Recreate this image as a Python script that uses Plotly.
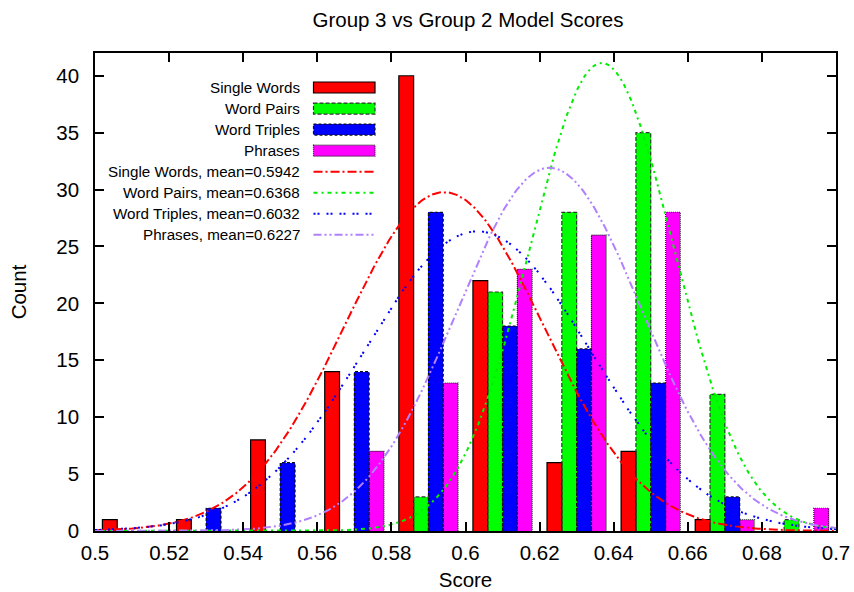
import numpy as np
import plotly.graph_objects as go

# ---------------- data ----------------
bin_centers = [0.51, 0.53, 0.55, 0.57, 0.59, 0.61, 0.63, 0.65, 0.67, 0.69]
single_words = [1, 1, 8, 14, 40, 22, 6, 7, 1, 0]
word_pairs = [0, 0, 0, 0, 3, 21, 28, 35, 12, 1]
word_triples = [0, 2, 6, 14, 28, 18, 16, 13, 3, 0]
phrases = [0, 0, 0, 7, 13, 23, 26, 28, 1, 2]

series_names = ["Single Words", "Word Pairs", "Word Triples", "Phrases"]
fit_means = [0.5942, 0.6368, 0.6032, 0.6227]
fit_sigmas = [0.0268, 0.0194, 0.0303, 0.0250]
sample_size = 100
bin_width = 0.02

x_tick_vals = [0.5, 0.52, 0.54, 0.56, 0.58, 0.6, 0.62, 0.64, 0.66, 0.68, 0.7]
x_tick_text = ["0.5", "0.52", "0.54", "0.56", "0.58", "0.6", "0.62", "0.64", "0.66", "0.68", "0.7"]
y_tick_vals = [0, 5, 10, 15, 20, 25, 30, 35, 40]

# ---------------- styles ----------------
bar_colors = ["#ff0000", "#00ff00", "#0000ff", "#ff00ff"]
bar_border_colors = ["#000000", "#333333", "#111111", "#222222"]
bar_border_dash = ["solid", "4px,2px", "3px,2px", "1px,1px"]
bar_offsets = [-0.006, -0.002, 0.002, 0.006]
bar_w = 0.004
curve_colors = ["#ff0000", "#00ee00", "#0000ff", "#b080ff"]
curve_dash = ["9px,3px,2px,3px", "4px,4px,2px,4px", "2px,2px,2px,7px", "8px,3px,2px,3px,2px,3px"]

FONT = "Liberation Sans, Arial, Helvetica, sans-serif"
BIG = 20.5
SMALL = 15.2

all_counts = [single_words, word_pairs, word_triples, phrases]

fig = go.Figure()

# bars
for i, counts in enumerate(all_counts):
    xs = [c + bar_offsets[i] for c in bin_centers]
    fig.add_trace(go.Bar(
        x=xs, y=counts, width=bar_w, name=series_names[i],
        marker=dict(color=bar_colors[i], line=dict(width=0)),
        showlegend=False, hoverinfo="x+y",
    ))
    # bar outlines built from the same data
    ox, oy = [], []
    for xc, h in zip(xs, counts):
        if h <= 0:
            continue
        x0, x1 = xc - bar_w / 2, xc + bar_w / 2
        ox += [x0, x0, x1, x1, None]
        oy += [0, h, h, 0, None]
    fig.add_trace(go.Scatter(
        x=ox, y=oy, mode="lines", showlegend=False, hoverinfo="skip",
        line=dict(color=bar_border_colors[i], width=1.2, dash=bar_border_dash[i]),
    ))

# fitted normal curves
xg = np.linspace(0.5, 0.7, 500)
for i in range(4):
    mu, sd = fit_means[i], fit_sigmas[i]
    yg = sample_size * bin_width / (sd * np.sqrt(2 * np.pi)) * np.exp(-(xg - mu) ** 2 / (2 * sd ** 2))
    fig.add_trace(go.Scatter(
        x=xg, y=yg, mode="lines", showlegend=False,
        name=f"{series_names[i]}, mean={mu:.4f}",
        line=dict(color=curve_colors[i], width=2, dash=curve_dash[i]),
    ))

# ---------------- layout ----------------
L, R, T, B = 95, 18, 53, 61
W, H = 854, 592
pw, ph = W - L - R, H - T - B


def px(xpix):
    return (xpix - L) / pw


def py(ypix):
    return (H - B - ypix) / ph


annotations = []
shapes = []
labels = series_names + [f"{n}, mean={m:.4f}" for n, m in zip(series_names, fit_means)]
row0, row_step = 87.5, 21.05
for k, lab in enumerate(labels):
    yc = row0 + k * row_step
    annotations.append(dict(
        x=px(302), y=py(yc), xref="paper", yref="paper", text=lab,
        showarrow=False, xanchor="right", yanchor="middle",
        font=dict(family=FONT, size=SMALL, color="#000000"),
    ))
    if k < 4:
        shapes.append(dict(
            type="rect", xref="paper", yref="paper",
            x0=px(313.5), x1=px(375), y0=py(yc - 5.5), y1=py(yc + 5.5),
            fillcolor=bar_colors[k],
            line=dict(color=bar_border_colors[k], width=1.2, dash=bar_border_dash[k]),
        ))
    else:
        j = k - 4
        shapes.append(dict(
            type="line", xref="paper", yref="paper",
            x0=px(313.5), x1=px(375), y0=py(yc), y1=py(yc),
            line=dict(color=curve_colors[j], width=2, dash=curve_dash[j]),
        ))

fig.update_layout(
    width=W, height=H,
    margin=dict(l=L, r=R, t=T, b=B, autoexpand=False),
    paper_bgcolor="white", plot_bgcolor="white",
    barmode="overlay", bargap=0,
    font=dict(family=FONT, size=BIG, color="#000000"),
    title=dict(text="Group 3 vs Group 2 Model Scores", x=468 / W, y=1 - 20 / H,
               xref="container", yref="container", xanchor="center", yanchor="middle",
               font=dict(family=FONT, size=BIG)),
    annotations=annotations,
    shapes=shapes,
    showlegend=False,
)

fig.update_xaxes(
    range=[0.5, 0.7], tickvals=x_tick_vals, ticktext=x_tick_text,
    ticks="inside", ticklen=9, tickwidth=1.5, tickcolor="#000000",
    showline=True, linecolor="#000000", linewidth=1.5, mirror="allticks",
    showgrid=False, zeroline=False, ticklabelstandoff=3,
    title=dict(text="Score", standoff=9, font=dict(size=BIG)),
    tickfont=dict(size=BIG),
)
fig.update_yaxes(
    range=[0, 42], tickvals=y_tick_vals,
    ticks="inside", ticklen=9, tickwidth=1.5, tickcolor="#000000",
    showline=True, linecolor="#000000", linewidth=1.5, mirror="allticks",
    showgrid=False, zeroline=False, ticklabelstandoff=10,
    title=dict(text="Count", standoff=24, font=dict(size=BIG)),
    tickfont=dict(size=BIG),
)

fig.write_html("out.html", config={"displayModeBar": False},
               post_script="document.body.style.margin='0';")
